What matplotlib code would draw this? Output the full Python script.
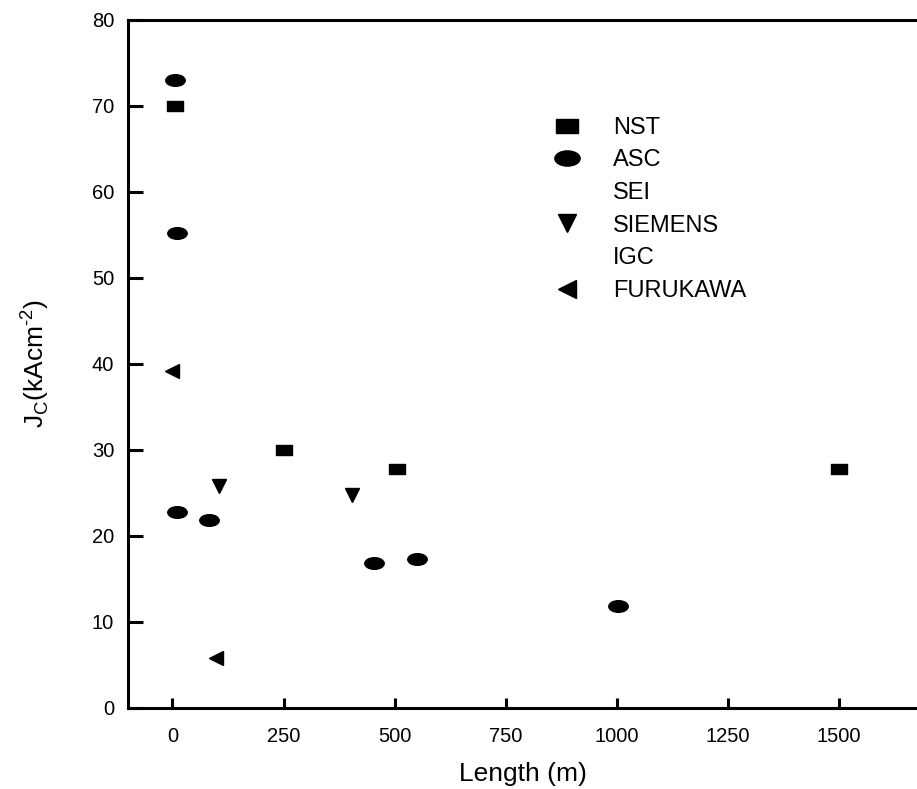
import matplotlib
matplotlib.use("Agg")
import matplotlib.pyplot as plt
from matplotlib.path import Path
from matplotlib.transforms import Affine2D

plt.rcParams['font.family'] = ['Liberation Sans', 'DejaVu Sans']
plt.rcParams['mathtext.fontset'] = 'custom'
plt.rcParams['mathtext.rm'] = 'Liberation Sans'

# Data
nst_x = [5, 250, 505, 1500]
nst_y = [70, 30, 27.8, 27.8]
asc_x = [5, 10, 11, 82, 453, 550, 1002]
asc_y = [73, 55.2, 22.8, 21.8, 16.8, 17.3, 11.8]
siemens_x = [104, 403]
siemens_y = [25.8, 24.8]
furukawa_x = [0, 97]
furukawa_y = [39.2, 5.8]
x_ticks = [0, 250, 500, 750, 1000, 1250, 1500]
x_tick_labels = ['0', '250', '500', '750', '1000', '1250', '1500']
y_ticks = [0, 10, 20, 30, 40, 50, 60, 70, 80]

ellipse = Path.unit_circle().transformed(Affine2D().scale(1.0, 0.6))
rect = Path([(-1, -0.6), (1, -0.6), (1, 0.6), (-1, 0.6), (-1, -0.6)],
            [Path.MOVETO, Path.LINETO, Path.LINETO, Path.LINETO, Path.CLOSEPOLY])

fig = plt.figure(figsize=(9.17, 7.89), dpi=100)
ax = fig.add_axes([0.1396, 0.1027, 0.8604, 0.872])

ax.plot(nst_x, nst_y, linestyle='none', marker=rect, markersize=12, color='black', label='NST')
ax.plot(asc_x, asc_y, linestyle='none', marker=ellipse, markersize=14, color='black', label='ASC')
ax.plot([], [], linestyle='none', marker='none', color='black', label='SEI')
ax.plot(siemens_x, siemens_y, linestyle='none', marker='v', markersize=10, color='black', label='SIEMENS')
ax.plot([], [], linestyle='none', marker='none', color='black', label='IGC')
ax.plot(furukawa_x, furukawa_y, linestyle='none', marker='<', markersize=10, color='black', label='FURUKAWA')

ax.set_xlim(-100, 1675)
ax.set_ylim(0, 80)
ax.set_xticks(x_ticks)
ax.set_xticklabels(x_tick_labels)
ax.set_yticks(y_ticks)

for s in ['left', 'bottom', 'top']:
    ax.spines[s].set_linewidth(2.2)
ax.spines['right'].set_visible(False)
ax.tick_params(axis='both', direction='in', width=2.2, labelsize=14.5)
ax.tick_params(axis='y', length=11, pad=10)
ax.tick_params(axis='x', length=7.5, pad=13.5)

ax.set_xlabel('Length (m)', fontsize=19, labelpad=12)
ax.set_ylabel(r'J$_\mathrm{C}$(kAcm$^{\mathrm{\text{-}2}}$)', fontsize=19, labelpad=29)

leg = ax.legend(loc='upper left', bbox_to_anchor=(0.522, 0.873), frameon=False,
                fontsize=17, markerscale=1.3, handlelength=1.5, handletextpad=1.2,
                labelspacing=0.45, borderaxespad=0)

fig.savefig('out.png', dpi=100)
